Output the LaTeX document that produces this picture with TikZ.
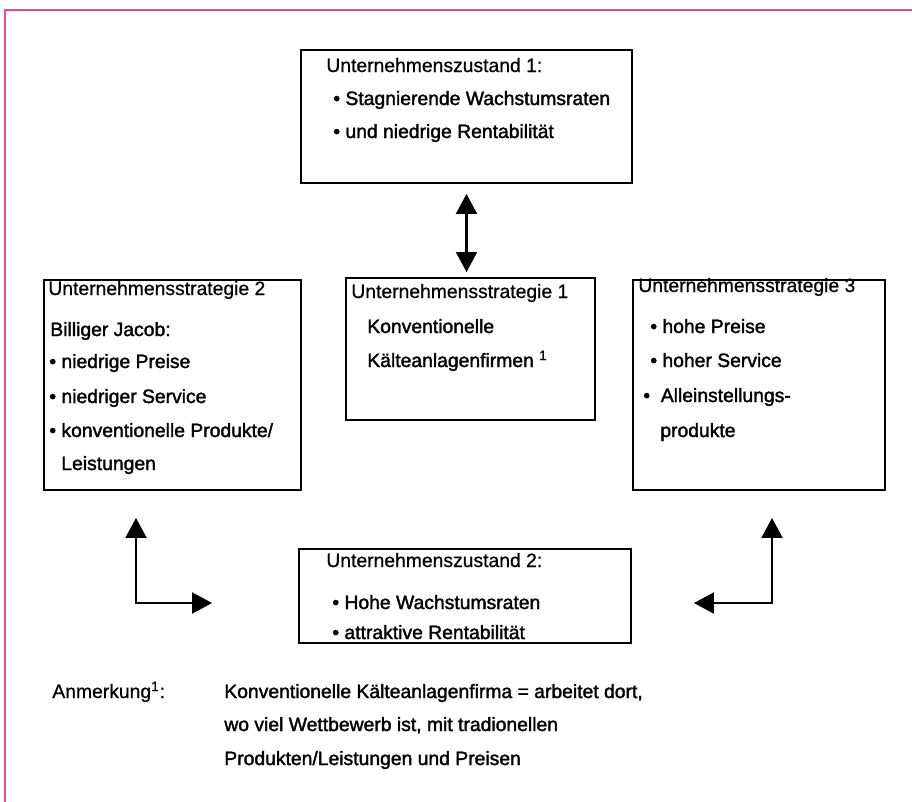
\documentclass[tikz,border=0pt]{standalone}
\usepackage{fontspec}
\setmainfont{Liberation Sans}[FakeBold=0.7]
\newfontfamily\itemfont{Liberation Sans}[FakeBold=1.8]
\usetikzlibrary{arrows.meta,fit}
\definecolor{rahmenpink}{RGB}{218,80,150}

\tikzset{%
  panel/.style={draw, line width=1.1pt, inner sep=0pt},
  headtxt/.style={anchor=base west, inner sep=0pt, font=\fontsize{11}{13}\selectfont},
  itemtxt/.style={anchor=base west, inner sep=0pt, font=\fontsize{11}{13}\itemfont},
  bothway/.style={line width=1.2pt,
    {Triangle[width=0.42cm,length=0.4cm]}-{Triangle[width=0.42cm,length=0.4cm]}},
}

\begin{document}
\begin{tikzpicture}[%
      x=0.02cm, y=-0.02cm,
      ]
      \useasboundingbox (0,0) rectangle (912,801);
      \draw [color=rahmenpink, line width=1.1pt] (5,820) -- (5,10) -- (930,10);

      \node [panel, fit={(301,50) (632,183)}] (zust1) {};
      \node [panel, fit={(44,280) (301,490)}] (strat2) {};
      \node [panel, fit={(346,278) (595,420)}] (strat1) {};
      \node [panel, fit={(633,280) (885,490)}] (strat3) {};
      \node [panel, fit={(299,549) (631,643)}] (zust2) {};

      \coordinate (lbend) at (136,603);
      \coordinate (rbend) at (772,603);

      \draw [bothway, shorten <=0.2cm, shorten >=0.1cm] (zust1.south) -- (zust1.south |- strat1.north);
      \draw [bothway, shorten <=0.54cm, shorten >=1.72cm] (strat2.south -| lbend) -- (lbend) -- (zust2.west |- lbend);
      \draw [bothway, shorten <=0.54cm, shorten >=1.24cm] (strat3.south -| rbend) -- (rbend) -- (zust2.east |- rbend);

      \node [headtxt] (z1a) at (326,72) {Unternehmenszustand 1:};
      \node [itemtxt] (z1b) at (333,105) {• Stagnierende Wachstumsraten};
      \node [itemtxt] (z1c) at (333,138) {• und niedrige Rentabilität};

      \node [headtxt] (s2a) at (48,295) {Unternehmensstrategie 2};
      \node [itemtxt] (s2b) at (50,336) {Billiger Jacob:};
      \node [itemtxt] (s2c) at (49,368) {• niedrige Preise};
      \node [itemtxt] (s2d) at (49,403) {• niedriger Service};
      \node [itemtxt] (s2e) at (49,437) {• konventionelle Produkte/};
      \node [itemtxt] (s2f) at (61,470) {Leistungen};

      \node [headtxt] (s1a) at (351,298) {Unternehmensstrategie 1};
      \node [itemtxt] (s1b) at (367,333) {Konventionelle};
      \node [itemtxt] (s1c) at (367,367) {Kälteanlagenfirmen \textsuperscript{1}};

      \node [headtxt] (s3a) at (638,292) {Unternehmensstrategie 3};
      \node [itemtxt] (s3b) at (650,333) {• hohe Preise};
      \node [itemtxt] (s3c) at (650,367) {• hoher Service};
      \node [itemtxt] (s3d) at (643,402) {•\ \ Alleinstellungs-};
      \node [itemtxt] (s3e) at (660,437) {produkte};

      \node [headtxt] (z2a) at (326,567) {Unternehmenszustand 2:};
      \node [itemtxt] (z2b) at (332,609) {• Hohe Wachstumsraten};
      \node [itemtxt] (z2c) at (332,639) {• attraktive Rentabilität};

      \node [headtxt] (anm) at (52,698) {Anmerkung\textsuperscript{1}:};
      \node [itemtxt] (anm1) at (224,698) {Konventionelle Kälteanlagenfirma = arbeitet dort,};
      \node [itemtxt] (anm2) at (224,731) {wo viel Wettbewerb ist, mit tradionellen};
      \node [itemtxt] (anm3) at (224,765) {Produkten/Leistungen und Preisen};
\end{tikzpicture}
\end{document}
